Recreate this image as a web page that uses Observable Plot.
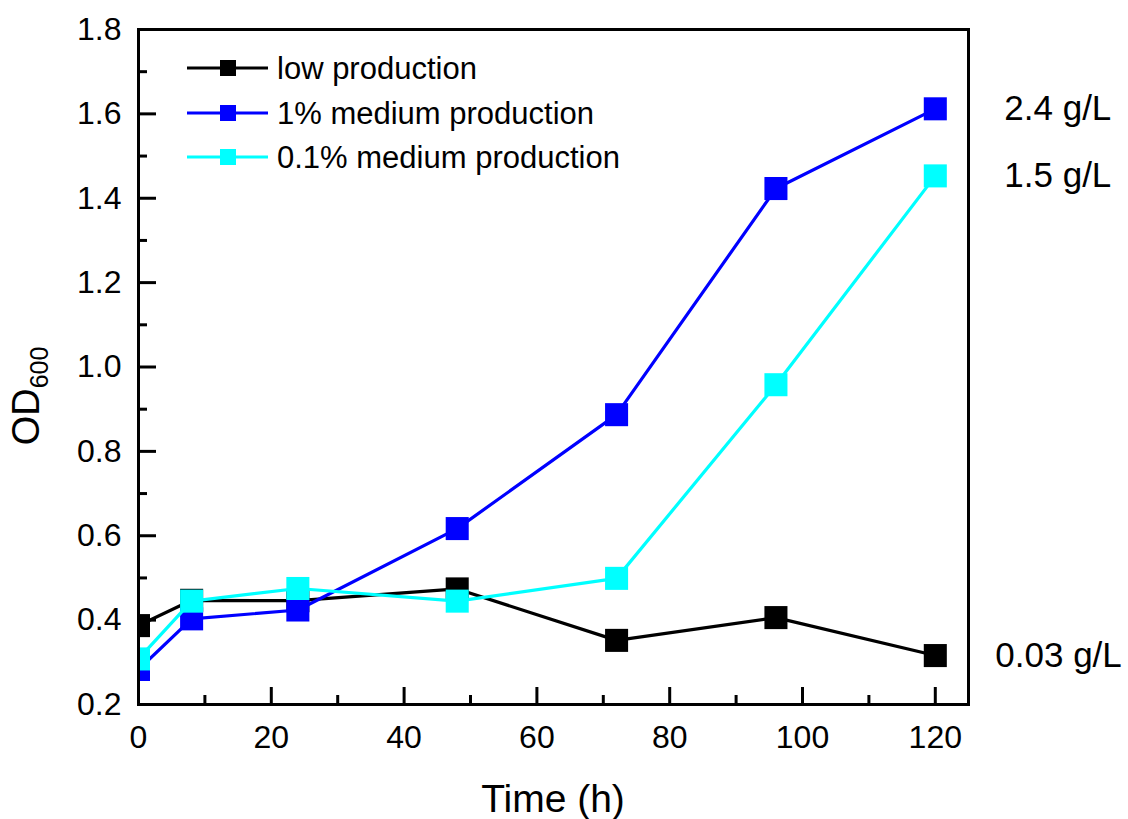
<!DOCTYPE html>
<html>
<head>
<meta charset="utf-8">
<script src="https://cdn.jsdelivr.net/npm/d3@7"></script>
<script src="https://cdn.jsdelivr.net/npm/@observablehq/plot@0.6"></script>
<style>
  html, body { margin: 0; padding: 0; background: #fff; }
  #chart { position: relative; width: 1128px; height: 819px; }
  svg { font-family: "Liberation Sans", Arial, sans-serif; }
</style>
</head>
<body>
<div id="chart"></div>
<script>
// ---- data ----
const times = [0, 8, 24, 48, 72, 96, 120];
const lowProduction = [0.387, 0.447, 0.446, 0.474, 0.352, 0.406, 0.316];
const medium1Production = [0.283, 0.403, 0.424, 0.617, 0.887, 1.423, 1.612];
const medium01Production = [0.308, 0.445, 0.475, 0.445, 0.499, 0.958, 1.453];
const seriesNames = ["low production", "1% medium production", "0.1% medium production"];
const seriesColors = ["#000000", "#0000ff", "#00ffff"];
const endLabels = ["0.03 g/L", "2.4 g/L", "1.5 g/L"];
const xMajorTicks = [0, 20, 40, 60, 80, 100, 120];
const xMinorTicks = [10, 30, 50, 70, 90, 110];
const yMajorTicks = [0.2, 0.4, 0.6, 0.8, 1.0, 1.2, 1.4, 1.6, 1.8];
const yMinorTicks = [0.3, 0.5, 0.7, 0.9, 1.1, 1.3, 1.5, 1.7];

const allValues = [lowProduction, medium1Production, medium01Production];
const rows = [];
allValues.forEach((vals, s) => vals.forEach((v, i) => rows.push({series: seriesNames[s], t: times[i], v})));
const lastPoints = seriesNames.map((name, s) => ({series: name, t: times[times.length - 1], v: allValues[s][times.length - 1], label: endLabels[s]}));

const W = 1128, H = 819;
const mL = 138, mR = 160, mT = 29, mB = 115;
const innerW = W - mL - mR, innerH = H - mT - mB;

const marks = [];
// ticks (inward, left and bottom only)
marks.push(Plot.tickY(yMajorTicks, {y: d => d, insetRight: innerW - 18, stroke: "black", strokeWidth: 3}));
marks.push(Plot.tickY(yMinorTicks, {y: d => d, insetRight: innerW - 9, stroke: "black", strokeWidth: 3}));
marks.push(Plot.tickX(xMajorTicks, {x: d => d, insetTop: innerH - 17, stroke: "black", strokeWidth: 3}));
marks.push(Plot.tickX(xMinorTicks, {x: d => d, insetTop: innerH - 9, stroke: "black", strokeWidth: 3}));
marks.push(Plot.axisX(xMajorTicks, {tickSize: 0, tickPadding: 21, fontSize: 32, label: null, tickFormat: d => String(d)}));
marks.push(Plot.axisY(yMajorTicks, {tickSize: 0, tickPadding: 17, fontSize: 32, label: null, tickFormat: d3.format(".1f")}));

seriesNames.forEach((name, s) => {
  const data = rows.filter(r => r.series === name);
  marks.push(Plot.line(data, {x: "t", y: "v", stroke: seriesColors[s], strokeWidth: 3.2, clip: true}));
  marks.push(Plot.dot(data, {x: "t", y: "v", symbol: "square", r: 13, fill: seriesColors[s], stroke: null, clip: true}));
});

marks.push(Plot.text(lastPoints.filter(d => d.series !== "low production"), {x: "t", y: "v", text: "label", textAnchor: "start", dx: 69, fontSize: 35, fill: "black"}));
marks.push(Plot.text(lastPoints.filter(d => d.series === "low production"), {x: "t", y: "v", text: "label", textAnchor: "start", dx: 60, fontSize: 35, fill: "black"}));
marks.push(Plot.frame({stroke: "black", strokeWidth: 3}));

const chart = Plot.plot({
  width: W, height: H,
  marginLeft: mL, marginRight: mR, marginTop: mT, marginBottom: mB,
  style: {fontFamily: "'Liberation Sans', Arial, sans-serif", color: "black", background: "white", overflow: "visible"},
  x: {domain: [0, 125], axis: null},
  y: {domain: [0.2, 1.8], axis: null},
  marks
});
document.getElementById("chart").appendChild(chart);

const svg = d3.select(chart);
// axis titles
svg.append("text")
  .attr("x", mL + innerW / 2).attr("y", 812)
  .attr("text-anchor", "middle")
  .attr("font-size", 39).attr("fill", "black")
  .text("Time (h)");
const yt = svg.append("text")
  .attr("transform", "translate(39,396) rotate(-90)")
  .attr("text-anchor", "middle")
  .attr("font-size", 38).attr("fill", "black");
yt.append("tspan").text("OD");
yt.append("tspan").attr("font-size", 25).attr("dy", 9).text("600");

// legend
const lg = svg.append("g");
const legendRowsY = [68, 113, 157];
seriesNames.forEach((name, s) => {
  const y = legendRowsY[s];
  lg.append("line").attr("x1", 187).attr("x2", 268).attr("y1", y).attr("y2", y)
    .attr("stroke", seriesColors[s]).attr("stroke-width", 3);
  lg.append("rect").attr("x", 220).attr("y", y - 8).attr("width", 16).attr("height", 16)
    .attr("fill", seriesColors[s]);
  lg.append("text").attr("x", 277).attr("y", y).attr("dy", "0.35em")
    .attr("text-anchor", "start")
    .attr("font-size", 31).attr("fill", "black").text(name);
});
</script>
</body>
</html>
